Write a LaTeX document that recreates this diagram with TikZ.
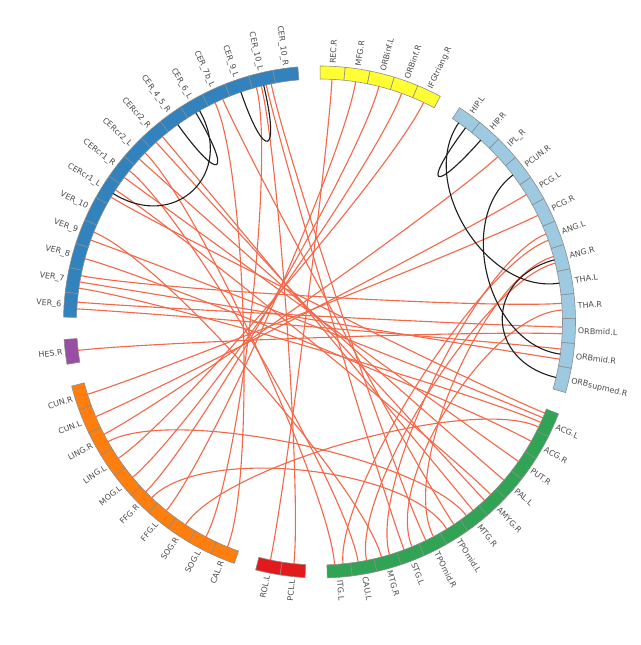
\documentclass[tikz,border=0pt]{standalone}
\usepackage{fontspec}
\setmainfont{DejaVu Sans}
\usetikzlibrary{calc}

\definecolor{lblue}{HTML}{9ECAE1}
\definecolor{yel}{HTML}{FFFF33}
\definecolor{cblue}{HTML}{3182BD}
\definecolor{purp}{HTML}{984EA3}
\definecolor{orng}{HTML}{FF7F0E}
\definecolor{rred}{HTML}{E31A1C}
\definecolor{grn}{HTML}{31A354}
\definecolor{chordcol}{HTML}{F2694A}

\newcommand{\rin}{243}
\newcommand{\rout}{256}
\newcommand{\rlab}{258.5}
\newcommand{\segw}{5.6034}

% one coloured block of the ring: start angle, colour, label/name list
\newcommand{\ringgroup}[3]{%
  \foreach \lab/\nm [count=\i] in {#3} {
    \pgfmathsetmacro\ta{#1+(\i-1)*\segw}
    \pgfmathsetmacro\tb{\ta+\segw}
    \pgfmathsetmacro\tm{\ta+\segw/2}
    \filldraw[segment, fill=#2] (\ta:\rin) arc[start angle=\ta, end angle=\tb, radius=\rin]
      -- (\tb:\rout) arc[start angle=\tb, end angle=\ta, radius=\rout] -- cycle;
    \coordinate (\nm) at (\tm:\rin);
    \pgfmathtruncatemacro\rside{cos(\tm)>=0}
    \ifnum\rside=1
      \node[lbl, anchor=west, rotate=\tm] (l\nm) at (\tm:\rlab) {\lab};
    \else
      \pgfmathsetmacro\rot{\tm+180}
      \node[lbl, anchor=east, rotate=\rot] (l\nm) at (\tm:\rlab) {\lab};
    \fi
  }}

\begin{document}
\begin{tikzpicture}[x=0.03cm, y=0.03cm,
  segment/.style={draw=black!45, line width=0.5pt},
  lbl/.style={font=\fontsize{6.8}{8}\selectfont, text=black!70, inner sep=0pt},
  redchord/.style={draw=chordcol, line width=0.95pt},
  blackchord/.style={draw=black!88, line width=0.95pt}]
 \path[use as bounding box, fill=white] (-319.5,-323) rectangle (320.5,322);
 \coordinate (O) at (0,0);

 % ring
 \ringgroup{-16.0}{lblue}{ORBsupmed.R/ORBsupmedR, ORBmid.R/ORBmidR, ORBmid.L/ORBmidL, THA.R/THAR, THA.L/THAL, ANG.R/ANGR, ANG.L/ANGL, PCG.R/PCGR, PCG.L/PCGL, PCUN.R/PCUNR, IPL\_R/IPLR, HIP.R/HIPR, HIP.L/HIPL}
 \ringgroup{61.84}{yel}{IFGtriang.R/IFGtriangR, ORBinf.R/ORBinfR, ORBinf.L/ORBinfL, MFG.R/MFGR, REC.R/RECR}
 \ringgroup{94.86}{cblue}{CER\_10\_R/CER10R, CER\_10\_L/CER10L, CER\_9\_L/CER9L, CER\_7b\_L/CER7bL, CER\_6\_L/CER6L, CER\_4\_5\_R/CER45R, CERcr2\_R/CERcr2R, CERcr2\_L/CERcr2L, CERcr1\_R/CERcr1R, CERcr1\_L/CERcr1L, VER\_10/VER10, VER\_9/VER9, VER\_8/VER8, VER\_7/VER7, VER\_6/VER6}
 \ringgroup{183.91}{purp}{HES.R/HESR}
 \ringgroup{194.51}{orng}{CUN.R/CUNR, CUN.L/CUNL, LING.R/LINGR, LING.L/LINGL, MOG.L/MOGL, FFG.R/FFGR, FFG.L/FFGL, SOG.R/SOGR, SOG.L/SOGL, CAL.R/CALR}
 \ringgroup{255.55}{rred}{ROL.L/ROLL, PCL.L/PCLL}
 \ringgroup{271.75}{grn}{ITG.L/ITGL, CAU.L/CAUL, MTG.R/MTGR, STG.L/STGL, TPOmid.R/TPOmidR, TPOmid.L/TPOmidL, MTG.R/MTGRb, AMYG.R/AMYGR, PAL.L/PALL, PUT.R/PUTR, ACG.R/ACGR, ACG.L/ACGL}

 % red links: node/offset/node/offset
 \foreach \a/\da/\b/\db in {RECR/0/ROLL/0, MFGR/0/FFGL/0, ORBinfL/0/FFGR/-1, ORBinfR/0/MOGL/0,
   IFGtriangR/0/LINGL/0, CER10L/0.6/PCLL/0, CER10L/-0.6/STGL/-1, CER10L/-1.8/TPOmidR/-1,
   CER10L/1.8/SOGL/0, CER7bL/-1/TPOmidL/1, CER7bL/1/CALR/0, CERcr2R/-1/MTGRb/1,
   CERcr2R/1/AMYGR/-1, CERcr2L/1/PALL/0, CERcr2L/-1/ITGL/-1, CERcr1R/1/PUTR/0,
   CERcr1R/-1/CAUL/-1, CERcr1L/-1/AMYGR/1, CERcr1L/1/ACGL/1.8, VER9/1/ACGL/0.6,
   VER9/-1/MTGR/-1, VER8/0/ACGR/0, VER7/1.5/ACGL/-0.6, VER7/0/ORBmidR/-1.2,
   VER7/-1.5/THAR/0.8, VER6/-0.8/ORBmidL/0.8, VER6/0.8/ORBmidR/1.2, HESR/0/ORBmidL/-0.8,
   CUNR/0/PCGR/0, CUNL/0/PCGL/0, LINGR/-1/IPLR/0, LINGR/1/MTGRb/-1,
   SOGR/0/ACGL/-1.8, ITGL/1/ANGL/-0.8, CAUL/1/ANGR/-0.8, MTGR/1/ANGL/0.8,
   STGL/1/THAR/-0.8, TPOmidR/1/ANGR/0.8, FFGR/1/TPOmidL/-1}
  \draw[redchord] ($(O)!1!\da:(\a)$) .. controls ($(O)!0.7!\da:(\a)$) and ($(O)!0.7!\db:(\b)$) .. ($(O)!1!\db:(\b)$);

 % black links
 \foreach \a/\da/\b/\db in {HIPL/-1/HIPR/0, HIPL/1/THAL/0, PCUNR/0/ORBmidR/0, ANGR/0/ORBsupmedR/0,
   CER9L/0/CER10L/0, CER6L/0.5/CER45R/0, CER6L/-0.5/CERcr1L/0}
  \draw[blackchord] ($(O)!1!\da:(\a)$) .. controls ($(O)!0.7!\da:(\a)$) and ($(O)!0.7!\db:(\b)$) .. ($(O)!1!\db:(\b)$);
\end{tikzpicture}
\end{document}
